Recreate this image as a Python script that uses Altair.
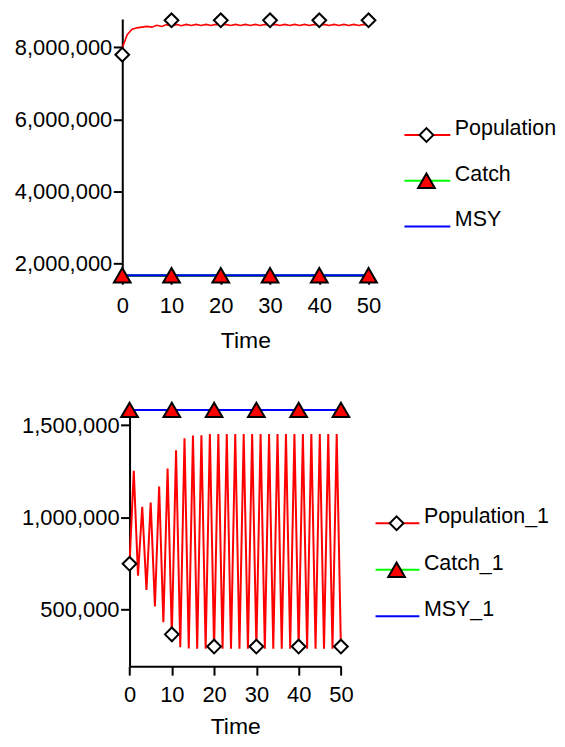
import altair as alt
import pandas as pd

FONT = "Liberation Sans"
RED = "#ff0000"
GREEN = "#00ff00"
BLUE = "#0000ff"

# ---------------- data ----------------
time_steps = list(range(51))

pop_top = [7980000, 8350000, 8500000, 8540000, 8560000, 8580000, 8560000, 8610000, 8580000, 8630000,
           8590000, 8635000, 8600000, 8635000, 8605000, 8635000, 8605000, 8635000, 8605000, 8635000,
           8605000, 8635000, 8605000, 8635000, 8605000, 8635000, 8605000, 8635000, 8605000, 8635000,
           8605000, 8635000, 8605000, 8635000, 8605000, 8635000, 8605000, 8635000, 8605000, 8635000,
           8605000, 8635000, 8605000, 8635000, 8605000, 8635000, 8605000, 8635000, 8605000, 8635000,
           8605000]

pop_bottom = [750000, 1253000, 684000, 1058000, 607000, 1081000, 518000, 1167000, 433000, 1265000,
              362000, 1364000, 298000, 1428000, 290000, 1443000, 289000, 1445000, 289000, 1452000,
              289000, 1452000, 289000, 1452000, 289000, 1452000, 289000, 1452000, 289000, 1452000,
              289000, 1452000, 289000, 1452000, 289000, 1452000, 289000, 1452000, 289000, 1452000,
              289000, 1452000, 289000, 1452000, 289000, 1452000, 289000, 1452000, 289000, 1452000,
              289000]

mark_times = [0, 10, 20, 30, 40, 50]
pop_top_marks = [7795000, 8750000, 8750000, 8750000, 8750000, 8750000]
pop_bottom_marks = [749000, 367000, 301000, 301000, 301000, 301000]
catch_top = [1667000, 1667000, 1667000, 1667000, 1667000, 1667000]
msy_top = [1667000, 1667000, 1667000, 1667000, 1667000, 1667000]
catch_bottom = [1582000, 1582000, 1582000, 1582000, 1582000, 1582000]
msy_bottom = [1582000, 1582000, 1582000, 1582000, 1582000, 1582000]

legend_top = ["Population", "Catch", "MSY"]
legend_bottom = ["Population_1", "Catch_1", "MSY_1"]
legend_colors = [RED, GREEN, BLUE]
legend_slots = [0, 1, 2]

x_ticks = [0, 10, 20, 30, 40, 50]
y_ticks_top = [2000000, 4000000, 6000000, 8000000]
y_ticks_bottom = [500000, 1000000, 1500000]
y_domain_top = [1667000, 8785000]
y_domain_bottom = [195000, 1582000]

# ---------------- layout (pixels, relative to the upper panel's origin) ----------------
W, H = 247, 649
TOP_H = 257
TOP_X, TOP_Y = [0, 247], [TOP_H, 0]
BOT_X, BOT_Y = [7.3, 219.3], [H, 392]
TOP_LEG_X, TOP_LEG_Y = [283, 329], [116.3, 208]
BOT_LEG_X, BOT_LEG_Y = [254, 298], [505.7, 599]


def panel(pop, pop_marks, catch, msy, ydomain, yticks, xrange, yrange,
          x_offset, y_offset, x_label_pad, x_title_pad, line_w):
    line_df = pd.DataFrame({"Time": time_steps, "value": pop})
    mark_df = pd.DataFrame({"Time": mark_times, "pop": pop_marks,
                            "catch": catch, "msy": msy})
    xs = alt.Scale(domain=[0, 50], range=xrange, nice=False, zero=False)
    ys = alt.Scale(domain=ydomain, range=yrange, nice=False, zero=False)
    xax = alt.Axis(values=x_ticks, title="Time", format="d", orient="bottom",
                   offset=x_offset, labelPadding=x_label_pad,
                   titlePadding=x_title_pad, labelFlush=False)
    yax = alt.Axis(values=yticks, title=None, format=",d", orient="left",
                   offset=y_offset, labelPadding=1.5, labelFlush=False)
    X = alt.X("Time:Q", scale=xs, axis=xax)

    def Y(field):
        return alt.Y(field, scale=ys, axis=yax)

    catch_line = alt.Chart(mark_df).mark_line(color=GREEN, strokeWidth=2).encode(
        x=X, y=Y("catch:Q"))
    msy_line = alt.Chart(mark_df).mark_line(color=BLUE, strokeWidth=2).encode(
        x=X, y=Y("msy:Q"))
    pop_line = alt.Chart(line_df).mark_line(color=RED, strokeWidth=line_w).encode(
        x=X, y=Y("value:Q"))
    pop_pts = alt.Chart(mark_df).mark_point(
        shape="diamond", size=190, filled=True, fill="white", stroke="black",
        strokeWidth=2, opacity=1).encode(x=X, y=Y("pop:Q"))
    catch_pts = alt.Chart(mark_df).mark_point(
        shape="triangle-up", size=280, filled=True, fill=RED, stroke="black",
        strokeWidth=2, opacity=1).encode(x=X, y=Y("catch:Q"))
    return alt.layer(pop_line, catch_line, msy_line, pop_pts, catch_pts)


def legend(labels, xrange, yrange):
    leg_df = pd.DataFrame({"label": labels, "slot": legend_slots,
                           "color": legend_colors,
                           "start": [0, 0, 0], "end": [1, 1, 1],
                           "mid": [0.48, 0.48, 0.48]})
    lx = alt.Scale(domain=[0, 1], range=xrange)
    ly = alt.Scale(domain=[0, 2], range=yrange)
    LY = alt.Y("slot:Q", scale=ly, axis=None)
    leg_rule = alt.Chart(leg_df).mark_rule(strokeWidth=2).encode(
        x=alt.X("start:Q", scale=lx, axis=None), x2="end:Q", y=LY,
        color=alt.Color("color:N", scale=None))
    leg_dia = alt.Chart(leg_df.iloc[[0]]).mark_point(
        shape="diamond", size=190, filled=True, fill="white", stroke="black",
        strokeWidth=2, opacity=1).encode(
        x=alt.X("mid:Q", scale=lx, axis=None), y=LY)
    leg_tri = alt.Chart(leg_df.iloc[[1]]).mark_point(
        shape="triangle-up", size=280, filled=True, fill=RED, stroke="black",
        strokeWidth=2, opacity=1).encode(
        x=alt.X("mid:Q", scale=lx, axis=None), y=LY)
    leg_text = alt.Chart(leg_df).mark_text(
        align="left", baseline="alphabetic", dx=4.5, font=FONT, fontSize=21.5,
        color="black").encode(
        x=alt.X("end:Q", scale=lx, axis=None), y=LY, text="label:N")
    return alt.layer(leg_rule, leg_dia, leg_tri, leg_text)


top = panel(pop_top, pop_top_marks, catch_top, msy_top, y_domain_top, y_ticks_top,
            TOP_X, TOP_Y, -(H - TOP_H), 0, 11, 13, 1.6)
bottom = panel(pop_bottom, pop_bottom_marks, catch_bottom, msy_bottom, y_domain_bottom,
               y_ticks_bottom, BOT_X, BOT_Y, 0, -7.3, 9.5, 10, 2)

chart = alt.layer(
    top, legend(legend_top, TOP_LEG_X, TOP_LEG_Y),
    bottom, legend(legend_bottom, BOT_LEG_X, BOT_LEG_Y)
).resolve_scale(x="independent", y="independent").properties(
    width=W, height=H,
    padding={"left": 5.6, "top": 0, "right": 0, "bottom": 0}
).configure_view(stroke=None).configure_axis(
    domainColor="black", domainWidth=2, tickColor="black", tickWidth=2, tickSize=9,
    labelFont=FONT, labelFontSize=22, labelColor="black",
    titleFont=FONT, titleFontSize=23, titleFontWeight="normal", titleColor="black",
    grid=False, zindex=1
)

chart.save("out.html", embed_options={"renderer": "svg", "actions": False})
